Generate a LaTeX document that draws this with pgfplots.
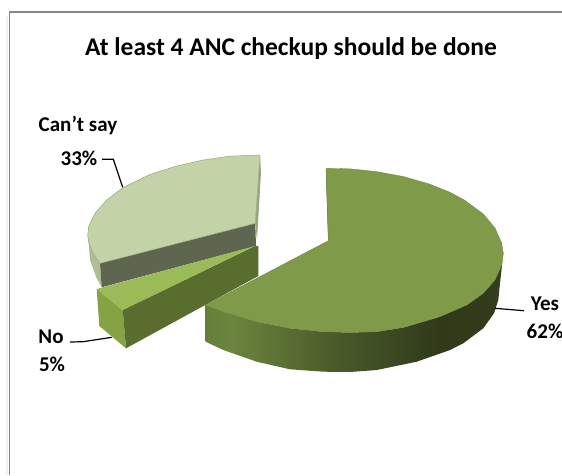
\documentclass[border=0pt]{standalone}
\usepackage{pgfplots}
\usepackage{fontspec}
\setmainfont{Carlito}
\pgfplotsset{compat=1.18}
\definecolor{yA}{HTML}{657F38}
\definecolor{yB}{HTML}{6C853E}
\definecolor{yC}{HTML}{4A5A2A}
\definecolor{yD}{HTML}{303A1A}
\definecolor{yF}{HTML}{333D1B}
\definecolor{yestop}{HTML}{7F9B4A}
\definecolor{notop}{HTML}{9BBB59}
\definecolor{cstop}{HTML}{C3D3A8}
\definecolor{csinner}{HTML}{5F6650}
\definecolor{csouter}{HTML}{ADBD94}
\definecolor{csedge}{HTML}{97A77C}
\definecolor{nofront}{HTML}{86A344}
\definecolor{noinner}{HTML}{586D2E}
\definecolor{frame}{HTML}{868686}
% Side wall of the large slice: dark towards the lower right
\pgfdeclarehorizontalshading{yesside}{100bp}{
  color(0bp)=(yA); color(25bp)=(yA); color(29bp)=(yB); color(47bp)=(yC);
  color(64bp)=(yD); color(75bp)=(yF); color(100bp)=(yF)}
\begin{document}
\begin{tikzpicture}
\useasboundingbox (0,0) rectangle (562pt,475pt);
\begin{axis}[
  at={(0,0)}, anchor=south west,
  scale only axis, width=562pt, height=475pt,
  xmin=0, xmax=562, ymin=0, ymax=475, y dir=reverse,
  hide axis, clip=false,
]
% chart frame and its soft shadow
\addplot[no markers, draw=black!6, line width=1.5pt] coordinates {(7,16) (7,475)};
\addplot[no markers, draw=frame, line width=1.4pt] coordinates {(9.5,475) (9.5,12) (562,12)};

% Can't say: outer and inner walls
\addplot[no markers, draw=none, fill=csedge] coordinates {(260,155) (261,172) (257,240) (255.3,223.3)} --cycle;
\addplot[no markers, draw=none, fill=csouter] coordinates {(88.3,238) (93.3,253.3) (100,263.3) (101.7,287.3) (96.7,278.3) (90,260)} --cycle;
\addplot[no markers, draw=none, fill=csinner] coordinates {(100,263.3) (255.3,223.3) (256,246) (101.7,287.3)} --cycle;
% Can't say: top
\addplot[no markers, draw=csedge, line width=0.5pt, fill=cstop] coordinates {
 (260,155) (230,156.2) (203.3,160) (176.7,166) (150,174.5) (123.3,187.3) (106.7,200)
 (95,213.3) (88.8,226) (87.7,235) (88.6,242) (93.3,253.3) (100,263.3) (255.3,223.3)} --cycle;

% No: walls and top
\addplot[no markers, draw=none, fill=nofront] coordinates {(96.7,289) (122.7,310) (126,348.3) (99.3,326)} --cycle;
\addplot[no markers, draw=none, fill=noinner] coordinates {(122.7,310) (255,246) (258.3,246) (258.3,276) (126,348.3)} --cycle;
\addplot[no markers, draw=none, fill=notop] coordinates {(96.7,289) (255,246) (122.7,310)} --cycle;

% Yes: wall and top
\addplot[no markers, draw=none, shading=yesside] coordinates {
 (503.3,253.3) (501.7,265) (495,280) (483.3,293.3) (466.7,305) (440,316.7) (403.3,327.5)
 (376.7,331.7) (350,332.5) (323.3,331.7) (290,328.3) (256.7,321.7) (223.3,311.7) (205.7,305)
 (205.7,341.7) (223.3,350) (256.7,361.7) (290,369.3) (323.3,371.7) (350,372) (376.7,370)
 (416.7,361.7) (450,350) (463.3,343.3) (483.3,328.3) (494,313.3) (498.3,300) (500,283)} --cycle;
\addplot[no markers, draw=none, fill=yD!70!yestop] coordinates {(326,168.3) (330.5,240) (328.3,240.7) (326,174)} --cycle;
\addplot[no markers, draw=yestop!85!black, line width=0.3pt, fill=yestop] coordinates {
 (326,168.3) (350,168.8) (376.7,171.6) (403.3,176.5) (430,184.2) (450,192.3) (465,200.4)
 (483.3,214) (495,228) (501.7,243) (503.3,253.3) (501.7,265) (495,280) (483.3,293.3) (466.7,305) (440,316.7)
 (403.3,327.5) (376.7,331.7) (350,332.5) (323.3,331.7) (290,328.3) (256.7,321.7) (223.3,311.7)
 (205.7,305) (328.3,240.7)} --cycle;

% leader lines
\addplot[no markers, black, line width=1.2pt] coordinates {(102,159.3) (113.3,159.3) (122.7,187.3)};
\addplot[no markers, black, line width=1.2pt] coordinates {(70,342) (83,341.7) (111.7,337.3)};
\addplot[no markers, black, line width=1.2pt] coordinates {(495,308.3) (524,310.7)};

% title and labels
\node[anchor=center, font=\fontsize{25.5}{30}\selectfont\bfseries] at (axis cs:291,49) {At least 4 ANC checkup should be done};
\node[anchor=center, font=\fontsize{21}{25}\selectfont\bfseries] at (axis cs:78,126) {Can’t say};
\node[anchor=center, font=\fontsize{21}{25}\selectfont\bfseries] at (axis cs:79,158) {33\%};
\node[anchor=center, font=\fontsize{21}{25}\selectfont\bfseries] at (axis cs:51,337) {No};
\node[anchor=center, font=\fontsize{21}{25}\selectfont\bfseries] at (axis cs:52,364) {5\%};
\node[anchor=center, font=\fontsize{21}{25}\selectfont\bfseries] at (axis cs:545,304) {Yes};
\node[anchor=center, font=\fontsize{21}{25}\selectfont\bfseries] at (axis cs:545,331) {62\%};
\end{axis}
\end{tikzpicture}
\end{document}
